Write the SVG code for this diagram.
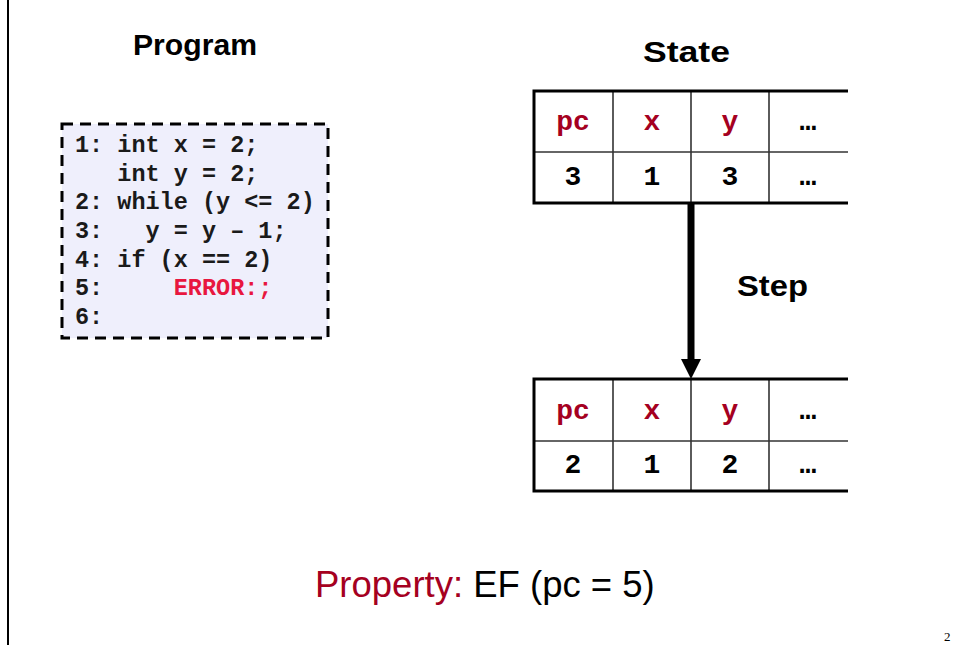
<svg xmlns="http://www.w3.org/2000/svg" width="954" height="645" viewBox="0 0 954 645">
<style>
.title{font-family:"Comic Sans MS","Liberation Sans",Arial,sans-serif;font-weight:bold;font-size:30px;fill:#000}
.code{font-family:"Courier New","Liberation Mono",monospace;font-weight:bold;font-size:23.5px;fill:#1a1a1a;white-space:pre}
.err{fill:#E8173F}
.hd{font-family:"Courier New","Liberation Mono",monospace;font-weight:bold;font-size:28px;fill:#A50021;text-anchor:middle}
.val{font-family:"Courier New","Liberation Mono",monospace;font-weight:bold;font-size:28px;fill:#000;text-anchor:middle}
.inner{stroke:#333;stroke-width:1.6;fill:none}
.outer{stroke:#000;stroke-width:3;fill:none}
</style>
<rect width="954" height="645" fill="#fff"/>
<line x1="8" y1="0" x2="8" y2="645" stroke="#000" stroke-width="2"/>
<text class="title" x="133" y="55" textLength="124" lengthAdjust="spacingAndGlyphs">Program</text>
<text class="title" x="643" y="62" textLength="87" lengthAdjust="spacingAndGlyphs">State</text>
<g id="program">
<rect x="62" y="124" width="266" height="214" fill="#EFEFFC" stroke="#000" stroke-width="3" stroke-dasharray="11,7"/>
<text class="code" xml:space="preserve" x="75" y="151.5">1: int x = 2;</text>
<text class="code" xml:space="preserve" x="75" y="180.5">   int y = 2;</text>
<text class="code" xml:space="preserve" x="75" y="209">2: while (y &lt;= 2)</text>
<text class="code" xml:space="preserve" x="75" y="238">3:   y = y – 1;</text>
<text class="code" xml:space="preserve" x="75" y="266.5">4: if (x == 2)</text>
<text class="code" xml:space="preserve" x="75" y="295">5:     <tspan class="err">ERROR:;</tspan></text>
<text class="code" xml:space="preserve" x="75" y="323.5">6:</text>
</g>
<g id="state1">
<rect x="534" y="91" width="320" height="112" fill="#fff" stroke="none"/>
<line class="inner" x1="534" y1="152" x2="848" y2="152"/>
<line class="inner" x1="613" y1="91" x2="613" y2="203"/>
<line class="inner" x1="691" y1="91" x2="691" y2="203"/>
<line class="inner" x1="769" y1="91" x2="769" y2="203"/>
<polyline class="outer" points="848,91 534,91 534,203 848,203"/>
<text class="hd" x="573" y="130">pc</text>
<text class="hd" x="652" y="130">x</text>
<text class="hd" x="730" y="130">y</text>
<text class="val" x="808" y="130">…</text>
<text class="val" x="573" y="185">3</text>
<text class="val" x="652" y="185">1</text>
<text class="val" x="730" y="185">3</text>
<text class="val" x="808" y="185">…</text>
</g>
<g id="state2">
<line class="inner" x1="534" y1="441" x2="848" y2="441"/>
<line class="inner" x1="613" y1="379" x2="613" y2="491"/>
<line class="inner" x1="691" y1="379" x2="691" y2="491"/>
<line class="inner" x1="769" y1="379" x2="769" y2="491"/>
<polyline class="outer" points="848,379 534,379 534,491 848,491"/>
<text class="hd" x="573" y="419">pc</text>
<text class="hd" x="652" y="419">x</text>
<text class="hd" x="730" y="419">y</text>
<text class="val" x="808" y="419">…</text>
<text class="val" x="573" y="473">2</text>
<text class="val" x="652" y="473">1</text>
<text class="val" x="730" y="473">2</text>
<text class="val" x="808" y="473">…</text>
</g>
<g id="connectors">
<line x1="691" y1="204" x2="691" y2="360" stroke="#000" stroke-width="7"/>
<polygon points="681,359 701,359 691,379" fill="#000"/>
</g>
<text class="title" x="737" y="296" textLength="71" lengthAdjust="spacingAndGlyphs">Step</text>
<text x="315" y="597" font-family="Arial,'Liberation Sans',sans-serif" font-size="36.5" fill="#000"><tspan fill="#A50021">Property:</tspan> EF (pc = 5)</text>
<text x="944" y="641" font-family="'Times New Roman','Liberation Serif',serif" font-size="13" fill="#000">2</text>
</svg>
